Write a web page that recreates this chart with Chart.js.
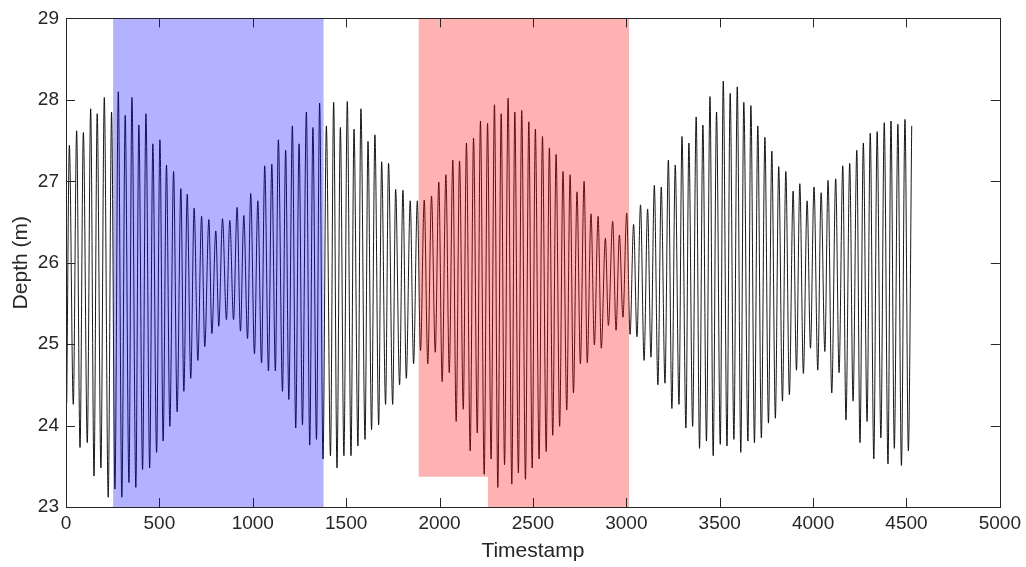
<!DOCTYPE html>
<html>
<head>
<meta charset="utf-8">
<script src="https://cdn.jsdelivr.net/npm/chart.js@4/dist/chart.umd.min.js"></script>
<style>
  body { margin: 0; background: #fff; }
  canvas { display: block; }
</style>
</head>
<body>
<canvas id="depthChart" width="1026" height="567"></canvas>
<script>
// tide record: low and high turning points
const troughT = [4, 39, 75, 114, 150, 187, 226, 262, 299, 337, 374, 410, 448, 485, 520, 556,
  595, 631, 668, 706, 743, 781, 818, 859, 897, 934, 972, 1009, 1047, 1084, 1121, 1159,
  1193, 1230, 1266, 1305, 1341, 1376, 1416, 1451, 1488, 1526, 1563, 1601, 1636, 1674, 1711, 1749,
  1786, 1822, 1861, 1898, 1937, 1977, 2014, 2052, 2089, 2127, 2164, 2202, 2239, 2276, 2312, 2348,
  2387, 2422, 2460, 2496, 2533, 2571, 2606, 2643, 2681, 2717, 2754, 2791, 2829, 2866, 2904,
  2945, 2982, 3020, 3057, 3095, 3132, 3169, 3207, 3244, 3282, 3319, 3355, 3392, 3429, 3465, 3503,
  3539, 3576, 3613, 3651, 3686, 3723, 3761, 3798, 3836, 3873, 3911, 3948, 3986, 4025, 4063, 4100,
  4139, 4176, 4214, 4251, 4289, 4325, 4363, 4401, 4435, 4473, 4510];
const troughDepth = [24.28, 24.26, 23.73, 23.79, 23.38, 23.48, 23.12, 23.22, 23.12, 23.30, 23.24, 23.46, 23.48, 23.67, 23.81, 23.99,
  24.17, 24.42, 24.58, 24.80, 24.97, 25.13, 25.22, 25.30, 25.30, 25.16, 25.07, 24.88, 24.77, 24.67, 24.67, 24.42,
  24.32, 23.97, 24.01, 23.76, 23.83, 23.59, 23.63, 23.48, 23.63, 23.63, 23.75, 23.83, 23.95, 24.01, 24.26, 24.26,
  24.50, 24.58, 24.76, 24.92, 24.76, 24.90, 24.54, 24.65, 24.05, 24.20, 23.69, 23.91, 23.40, 23.59, 23.24, 23.52,
  23.28, 23.42, 23.34, 23.48, 23.59, 23.68, 23.88, 23.99, 24.19, 24.40, 24.76, 24.77, 24.99, 24.95, 25.23,
  25.17, 25.33, 25.12, 25.09, 24.80, 24.84, 24.50, 24.52, 24.21, 24.26, 23.97, 23.99, 23.72, 23.81, 23.63, 23.77,
  23.75, 23.83, 23.67, 23.81, 23.79, 23.85, 24.03, 24.09, 24.30, 24.38, 24.68, 24.64, 24.95, 24.68, 24.91, 24.40,
  24.65, 24.07, 24.30, 23.79, 24.05, 23.59, 23.85, 23.53, 23.72, 23.51, 23.69];

const peakT = [18, 57, 93, 132, 167, 205, 244, 280, 317, 353, 390, 428, 465, 503, 538, 576,
  615, 649, 686, 726, 765, 802, 838, 877, 916, 952, 989, 1027, 1064, 1102, 1137,
  1176, 1212, 1248, 1287, 1322, 1358, 1394, 1433, 1469, 1506, 1542, 1579, 1617, 1654, 1690, 1727,
  1765, 1804, 1843, 1881, 1918, 1957, 1996, 2034, 2071, 2107, 2144, 2182, 2219, 2257, 2294, 2330,
  2367, 2403, 2440, 2478, 2513, 2551, 2588, 2624, 2661, 2699, 2736, 2774, 2811, 2849, 2888, 2927,
  2963, 3002, 3039, 3076, 3114, 3150, 3187, 3225, 3262, 3298, 3335, 3374, 3410, 3448, 3483, 3519,
  3556, 3594, 3629, 3667, 3704, 3742, 3779, 3816, 3854, 3893, 3929, 3968, 4005, 4043, 4080,
  4121, 4159, 4196, 4234, 4269, 4306, 4343, 4381, 4417, 4454, 4492, 4528];
const peakDepth = [27.44, 27.62, 27.60, 27.89, 27.83, 28.03, 27.85, 28.10, 27.81, 28.03, 27.69, 27.83, 27.46, 27.51, 27.20, 27.12,
  26.91, 26.84, 26.67, 26.57, 26.53, 26.39, 26.54, 26.52, 26.68, 26.58, 26.85, 26.76, 27.19, 27.21, 27.51,
  27.38, 27.68, 27.46, 27.85, 27.66, 27.96, 27.68, 27.97, 27.66, 27.98, 27.64, 27.89, 27.49, 27.57, 27.24, 27.22,
  26.90, 26.89, 26.76, 26.76, 26.77, 26.82, 26.99, 27.08, 27.26, 27.25, 27.47, 27.53, 27.74, 27.71, 27.94, 27.83,
  28.02, 27.85, 27.87, 27.73, 27.64, 27.55, 27.41, 27.33, 27.12, 27.08, 26.87, 27.00, 26.60, 26.57, 26.30, 26.51,
  26.34, 26.61, 26.47, 26.71, 26.66, 26.95, 26.93, 27.26, 27.20, 27.55, 27.47, 27.79, 27.69, 28.04, 27.85, 28.23,
  28.08, 28.16, 27.97, 27.93, 27.68, 27.54, 27.37, 27.18, 27.12, 26.88, 26.97, 26.76, 26.93, 26.86, 27.01,
  27.03, 27.19, 27.22, 27.38, 27.47, 27.59, 27.61, 27.72, 27.74, 27.70, 27.76, 27.68];

// shaded windows: blue is a plain box, red has a raised floor on its left part
const blueX = [252, 1380];
const blueY = [23, 29];
const redX = [1887, 3015];
const redTop = 29;
const redFloorX = [1887, 2259, 2259, 3015];
const redFloorY = [23.37, 23.37, 23, 23];

const xTicks = [0, 5000, 500];
const yTicks = [23, 29, 1];

const axisColor = '#262626';
const fontFamily = "'Liberation Sans', Arial, sans-serif";

// merge highs and lows into one time ordered trace
const trace = troughT.map((t, i) => ({ x: t, y: troughDepth[i] }))
  .concat(peakT.map((t, i) => ({ x: t, y: peakDepth[i] })))
  .sort((a, b) => a.x - b.x);

const noLine = { borderWidth: 0, pointRadius: 0, order: 0 };

// matlab style box with inward ticks on every side
const boxPlugin = {
  id: 'box',
  afterDraw(chart) {
    const { ctx, chartArea: a, scales } = chart;
    const len = 9;
    ctx.save();
    ctx.strokeStyle = axisColor;
    ctx.lineWidth = 1;
    ctx.beginPath();
    scales.x.ticks.forEach(t => {
      const px = Math.round(scales.x.getPixelForValue(t.value)) + 0.5;
      ctx.moveTo(px, a.bottom); ctx.lineTo(px, a.bottom - len);
      ctx.moveTo(px, a.top); ctx.lineTo(px, a.top + len);
    });
    scales.y.ticks.forEach(t => {
      const py = Math.round(scales.y.getPixelForValue(t.value)) + 0.5;
      ctx.moveTo(a.left, py); ctx.lineTo(a.left + len, py);
      ctx.moveTo(a.right, py); ctx.lineTo(a.right - len, py);
    });
    ctx.stroke();
    ctx.strokeRect(Math.round(a.left) + 0.5, Math.round(a.top) + 0.5,
      Math.round(a.right - a.left), Math.round(a.bottom - a.top));
    ctx.restore();
  }
};

new Chart(document.getElementById('depthChart'), {
  type: 'line',
  data: {
    datasets: [
      {
        data: trace,
        borderColor: 'rgba(0, 0, 0, 0.9)',
        borderWidth: 1,
        pointRadius: 0,
        fill: false,
        cubicInterpolationMode: 'monotone',
        order: 1
      },
      {
        ...noLine,
        data: [{ x: blueX[0], y: blueY[1] }, { x: blueX[1], y: blueY[1] }],
        fill: { value: blueY[0] },
        backgroundColor: 'rgba(0, 0, 255, 0.3)'
      },
      {
        ...noLine,
        data: [{ x: redX[0], y: redTop }, { x: redX[1], y: redTop }],
        fill: '+1',
        backgroundColor: 'rgba(255, 0, 0, 0.3)'
      },
      {
        ...noLine,
        data: redFloorX.map((x, i) => ({ x: x, y: redFloorY[i] })),
        fill: false
      }
    ]
  },
  options: {
    responsive: false,
    animation: false,
    devicePixelRatio: 1,
    layout: { padding: { top: 17, right: 25, left: 0, bottom: 0 } },
    plugins: { legend: { display: false }, tooltip: { enabled: false } },
    scales: {
      x: {
        type: 'linear',
        min: xTicks[0],
        max: xTicks[1],
        ticks: {
          stepSize: xTicks[2], color: axisColor, font: { family: fontFamily, size: 19 }, padding: 5, maxRotation: 0,
          callback: v => String(v)
        },
        grid: { display: false, drawTicks: false },
        border: { display: false },
        title: { display: true, text: 'Timestamp', color: axisColor, font: { family: fontFamily, size: 21 }, padding: { top: 0, bottom: 3 } },
        afterFit(scale) { scale.height = 60; }
      },
      y: {
        min: yTicks[0],
        max: yTicks[1],
        ticks: { stepSize: yTicks[2], color: axisColor, font: { family: fontFamily, size: 19 }, padding: 7 },
        grid: { display: false, drawTicks: false },
        border: { display: false },
        title: { display: true, text: 'Depth (m)', color: axisColor, font: { family: fontFamily, size: 21 }, padding: { top: 9, bottom: 0 } },
        afterFit(scale) { scale.width = 66; }
      }
    }
  },
  plugins: [boxPlugin]
});
</script>
</body>
</html>
